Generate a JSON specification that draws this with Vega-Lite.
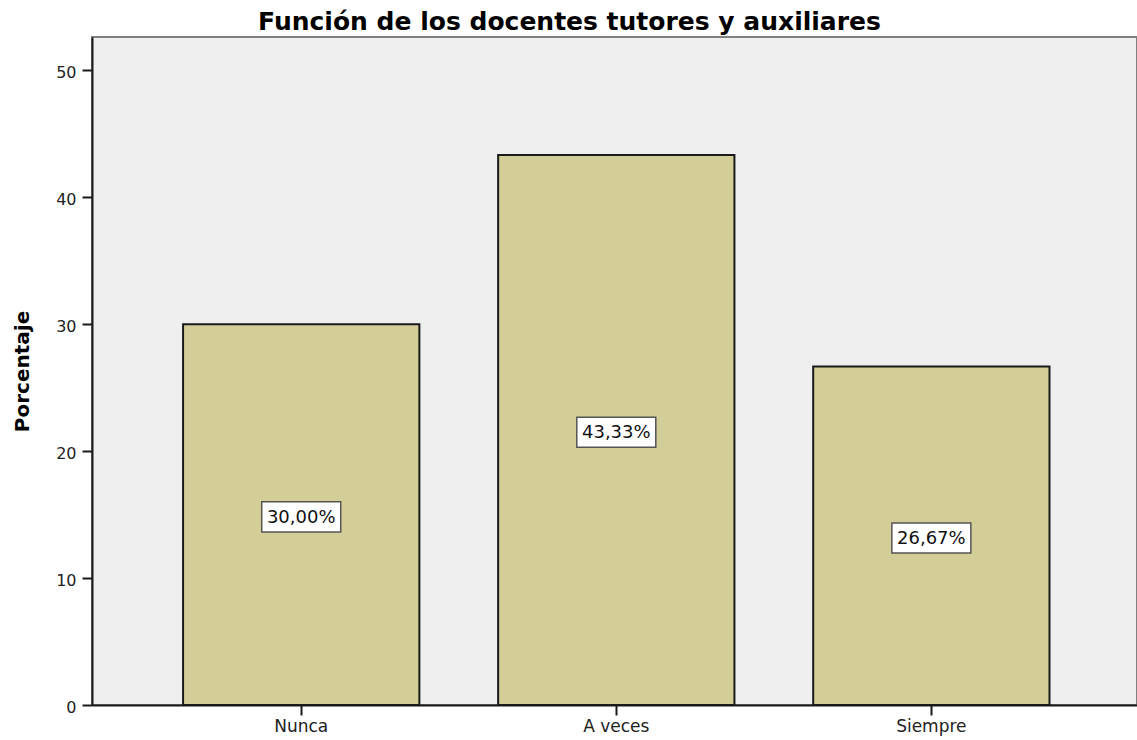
{
  "$schema": "https://vega.github.io/schema/vega-lite/v6.json",
  "width": 1045,
  "height": 668,
  "autosize": {"type": "none"},
  "padding": {"left": 92, "top": 37, "right": 0, "bottom": 35},
  "background": "white",
  "title": {
    "text": "Función de los docentes tutores y auxiliares",
    "font": "DejaVu Sans",
    "fontSize": 25,
    "fontWeight": "bold",
    "color": "#000000",
    "anchor": "middle",
    "dx": -45,
    "offset": -18,
    "baseline": "alphabetic"
  },
  "config": {
    "view": {"fill": "#EFEFEF", "stroke": "#808080", "strokeWidth": 2},
    "axis": {
      "grid": false,
      "domainColor": "#1a1a1a",
      "domainWidth": 2,
      "tickColor": "#1a1a1a",
      "tickWidth": 2,
      "tickSize": 10,
      "labelFont": "DejaVu Sans",
      "labelColor": "#222222",
      "titleFont": "DejaVu Sans",
      "titleColor": "#000000"
    }
  },
  "data": {
    "values": [
      {"categoria": "Nunca", "porcentaje": 30.00, "etiqueta": "30,00%"},
      {"categoria": "A veces", "porcentaje": 43.33, "etiqueta": "43,33%"},
      {"categoria": "Siempre", "porcentaje": 26.67, "etiqueta": "26,67%"}
    ]
  },
  "encoding": {
    "x": {
      "field": "categoria",
      "type": "nominal",
      "sort": ["Nunca", "A veces", "Siempre"],
      "scale": {"paddingInner": 0.25, "paddingOuter": 0.2834, "align": 0.51},
      "axis": {"title": null, "labelAngle": 0, "labelFontSize": 17, "labelPadding": 3}
    }
  },
  "layer": [
    {
      "mark": {"type": "bar", "fill": "#D3CE97", "stroke": "#1a1a1a", "strokeWidth": 2},
      "encoding": {
        "y": {
          "field": "porcentaje",
          "type": "quantitative",
          "scale": {"domain": [0, 52.62], "nice": false},
          "axis": {
            "title": "Porcentaje",
            "values": [0, 10, 20, 30, 40, 50],
            "labelFontSize": 16,
            "labelPadding": 6,
            "labelOffset": 2,
            "titleFontSize": 20,
            "titleFontWeight": "bold",
            "titleX": -64,
            "titleY": 334,
            "titleAngle": -90,
            "titleAlign": "center",
            "titleBaseline": "alphabetic"
          }
        }
      }
    },
    {
      "encoding": {
        "y": {
          "field": "porcentaje",
          "type": "quantitative",
          "scale": {"domain": [0, 105.24], "range": [670.3, 2.3], "nice": false},
          "axis": null
        }
      },
      "layer": [
        {
          "mark": {
            "type": "point",
            "shape": "M-1,-0.38L1,-0.38L1,0.38L-1,0.38Z",
            "size": 6241,
            "filled": true,
            "fill": "#FFFFFF",
            "stroke": "#555555",
            "strokeWidth": 1.5,
            "opacity": 1
          }
        },
        {
          "mark": {
            "type": "text",
            "font": "DejaVu Sans",
            "fontSize": 18,
            "color": "#111111",
            "baseline": "middle",
            "align": "center",
            "dy": 1
          },
          "encoding": {"text": {"field": "etiqueta"}}
        }
      ]
    }
  ],
  "resolve": {"scale": {"y": "independent"}}
}
